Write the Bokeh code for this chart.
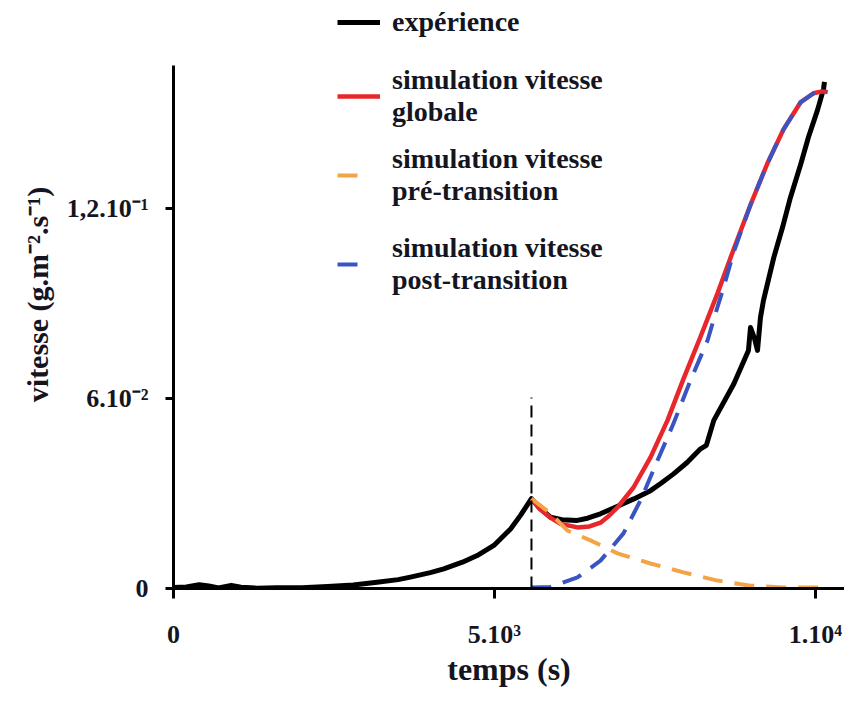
from bokeh.plotting import figure
from bokeh.models import FixedTicker, Legend, LegendItem, Range1d
from bokeh.embed import file_html
from bokeh.resources import INLINE

# ---- data ----
exp_t = [0, 200, 400, 550, 700, 900, 1050, 1300, 1600, 2000, 2400, 2800, 3170, 3500,
         3690, 4000, 4210, 4500, 4730, 4990, 5250, 5405, 5576, 5700, 5872, 6050, 6288,
         6450, 6650, 6900, 7170, 7430, 7600, 7790, 8000, 8210, 8300, 8416, 8727, 8956,
         8988, 9050, 9097, 9143, 9190, 9350, 9486, 9610, 9770, 9890, 10030, 10125, 10140]
exp_v = [0.0003, 0.0005, 0.0012, 0.0008, 0.0002, 0.0010, 0.0004, 0.0001, 0.0002, 0.0002,
         0.0006, 0.0011, 0.0020, 0.0028, 0.0036, 0.0050, 0.0062, 0.0083, 0.0104, 0.0136,
         0.0188, 0.0231, 0.0284, 0.0255, 0.0225, 0.0217, 0.0215, 0.0222, 0.0236, 0.0258,
         0.0283, 0.0309, 0.0333, 0.0362, 0.0398, 0.0441, 0.0452, 0.0531, 0.0646, 0.0752,
         0.0824, 0.0790, 0.0752, 0.0856, 0.0910, 0.1045, 0.1140, 0.1235, 0.1340, 0.1425,
         0.1510, 0.1577, 0.1600]

glob_t = [5576, 5700, 5872, 6028, 6293, 6480, 6651, 6780, 6916, 7165, 7430, 7695, 7944,
          8209, 8474, 8723, 8988, 9252, 9502, 9766, 9969, 10100, 10187]
glob_v = [0.0284, 0.0252, 0.0224, 0.0204, 0.0193, 0.0196, 0.0208, 0.0229, 0.0256, 0.0319,
          0.0414, 0.0531, 0.0662, 0.0795, 0.0932, 0.1070, 0.1212, 0.1343, 0.1450, 0.1535,
          0.1564, 0.1570, 0.1568]

pre_t = [5576, 5872, 6137, 6495, 6916, 7430, 7944, 8474, 8988, 9502, 10187]
pre_v = [0.0284, 0.0237, 0.0183, 0.0152, 0.0111, 0.0079, 0.0051, 0.0025, 0.0009, 0.0003, 0.0003]

post_t = [5576, 5872, 6293, 6651, 7009, 7274, 7539, 7788, 8053, 8318, 8442, 8567, 8723,
          8988, 9252, 9502, 9766, 9969, 10100, 10187]
post_v = [0.0003, 0.0005, 0.0035, 0.0088, 0.0174, 0.0278, 0.0404, 0.0521, 0.0657, 0.0783,
          0.0868, 0.0950, 0.1060, 0.1212, 0.1343, 0.1450, 0.1535, 0.1564, 0.1570, 0.1568]

transition_t = [5576]
transition_top = [0.0603]

x_ticks = [0, 5000, 10000]
x_tick_labels = ["0", "5.10³", "1.10⁴"]
y_ticks = [0, 0.06, 0.12]
y_tick_labels = ["0", "6.10⁻²", "1,2.10⁻¹"]
y_axis_top = 0.1652

x_label = "temps (s)"
y_label = "vitesse (g.m⁻².s⁻¹)"
legend_labels = ["expérience", "simulation vitesse\nglobale",
                 "simulation vitesse\npré-transition", "simulation vitesse\npost-transition"]

FONT = "Liberation Serif"
TXT = "#15151f"

p = figure(width=844, height=689, output_backend="svg", toolbar_location=None,
           x_range=Range1d(0, 10452), y_range=Range1d(0, 0.1857),
           min_border_left=173, min_border_right=0, min_border_top=0,
           min_border_bottom=101)
p.background_fill_color = "white"
p.border_fill_color = "white"
p.outline_line_color = None
p.xgrid.visible = False
p.ygrid.visible = False

r_exp = p.line(exp_t, exp_v, line_color="black", line_width=5, line_join="round")
r_glob = p.line(glob_t, glob_v, line_color="#e8262b", line_width=4.5, line_join="round")
r_pre = p.line(pre_t, pre_v, line_color="#f2a446", line_width=4, line_dash="20 12")
r_post = p.line(post_t, post_v, line_color="#3a55c2", line_width=4, line_dash="20 12")
p.segment(x0=transition_t, y0=[0], x1=transition_t, y1=transition_top,
          line_color="black", line_width=2, line_dash="12 7")

for ax in (p.xaxis[0], p.yaxis[0]):
    ax.axis_line_width = 3
    ax.axis_line_color = "black"
    ax.major_tick_line_width = 3
    ax.major_tick_line_color = "black"
    ax.major_tick_in = 0
    ax.minor_tick_in = 0
    ax.minor_tick_out = 0
    ax.major_label_text_font = FONT
    ax.major_label_text_font_style = "bold"
    ax.major_label_text_font_size = "26px"
    ax.major_label_text_color = TXT
    ax.axis_label_text_font = FONT
    ax.axis_label_text_font_style = "bold"
    ax.axis_label_text_color = TXT

p.xaxis.ticker = FixedTicker(ticks=x_ticks)
p.xaxis.major_label_overrides = dict(zip(x_ticks, x_tick_labels))
p.xaxis.major_tick_out = 10
p.xaxis.major_label_standoff = 21
p.xaxis.axis_label = x_label
p.xaxis.axis_label_standoff = -1
p.xaxis.axis_label_text_font_size = "32px"

p.yaxis.ticker = FixedTicker(ticks=y_ticks)
p.yaxis.major_label_overrides = dict(zip(y_ticks, y_tick_labels))
p.yaxis.major_tick_out = 8
p.yaxis.major_label_standoff = 17
p.yaxis.axis_label = y_label
p.yaxis.axis_label_standoff = 10
p.yaxis.axis_label_text_font_size = "30px"
p.yaxis.bounds = (0, y_axis_top)

common = dict(orientation="vertical", glyph_height=20, padding=0, margin=0,
              background_fill_alpha=0, border_line_alpha=0,
              label_text_font=FONT, label_text_font_style="bold",
              label_text_font_size="28px", label_text_color=TXT,
              label_text_line_height=1.15)

leg1 = Legend(items=[LegendItem(label=legend_labels[0], renderers=[r_exp])],
              location=(164, 550), glyph_width=43, label_standoff=12, **common)
leg2 = Legend(items=[LegendItem(label=legend_labels[1], renderers=[r_glob])],
              location=(164, 460), glyph_width=43, label_standoff=12, **common)
leg3 = Legend(items=[LegendItem(label=legend_labels[2], renderers=[r_pre]),
                     LegendItem(label=legend_labels[3], renderers=[r_post])],
              location=(164, 292), glyph_width=21, label_standoff=34, spacing=25,
              **common)
p.add_layout(leg1)
p.add_layout(leg2)
p.add_layout(leg3)

open("out.html", "w").write(file_html(p, INLINE))
